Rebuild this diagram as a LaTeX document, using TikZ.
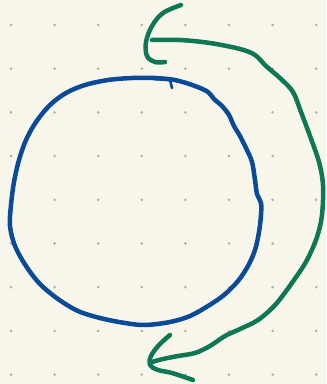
\documentclass[tikz,border=0pt]{standalone}
\usepackage{tikz}
\usetikzlibrary{calc}
\definecolor{mPaper}{HTML}{F8F6EA}
\definecolor{mDot}{HTML}{B0AFA7}
\definecolor{mBlue}{HTML}{0B4A98}
\definecolor{mGreen}{HTML}{0E7855}
\begin{document}
\begin{tikzpicture}[x=0.03cm, y=-0.03cm,
    inkline/.style={line width=1.35mm, line cap=round, line join=round},
    gridpt/.style={mDot}]
    \fill[mPaper] (0,0) rectangle (326,384);
    \useasboundingbox (0,0) rectangle (326,384);
    \foreach \i in {0,...,7} {
      \foreach \j in {0,...,8} {
        \fill[gridpt] (11+\i*43.6, 25+\j*43.7) circle (1.2pt);
      }
    }
    % loop
    \draw[inkline, mBlue] plot[smooth, tension=0.55] coordinates {
      (155,78) (175,80) (195,86) (208,92) (214,99) (222,106) (229,115)
      (234,126) (240,136) (246,148) (252,162) (255,180) (257,194) (261,203)
      (261,215) (259,232) (255,250) (248,266) (238,281) (224,295) (208,306)
      (190,316) (170,322) (145,325) (125,323) (100,318) (78,311) (58,299)
      (40,284) (26,266) (15,246) (10,226) (11,205) (14,182) (19,160)
      (26,140) (36,122) (50,105) (66,93) (85,85) (108,80) (132,78) (155,78)};
    \draw[inkline, mBlue, line width=0.8mm] (153,79) -- (170,80) -- (172,88);
    % arrow
    \draw[inkline, mGreen] plot[smooth, tension=0.6] coordinates {
      (181,5) (163,13) (152,26) (146,42) (147,56) (155,62) (165,62)};
    \draw[inkline, mGreen] plot[smooth, tension=0.55] coordinates {
      (152,40) (180,40) (210,43) (240,49) (255,55) (266,66) (281,79)
      (293,92) (301,112) (310,136) (319,162) (323,185) (322,215) (317,237)
      (307,260) (294,280) (276,304) (258,320) (240,329) (225,336)
      (210,346) (195,353) (178,356) (163,359) (152,362)};
    \draw[inkline, mGreen] plot[smooth, tension=0.6] coordinates {
      (170,335) (159,345) (151,356) (150,365) (158,370) (172,373) (193,380)};
\end{tikzpicture}
\end{document}
